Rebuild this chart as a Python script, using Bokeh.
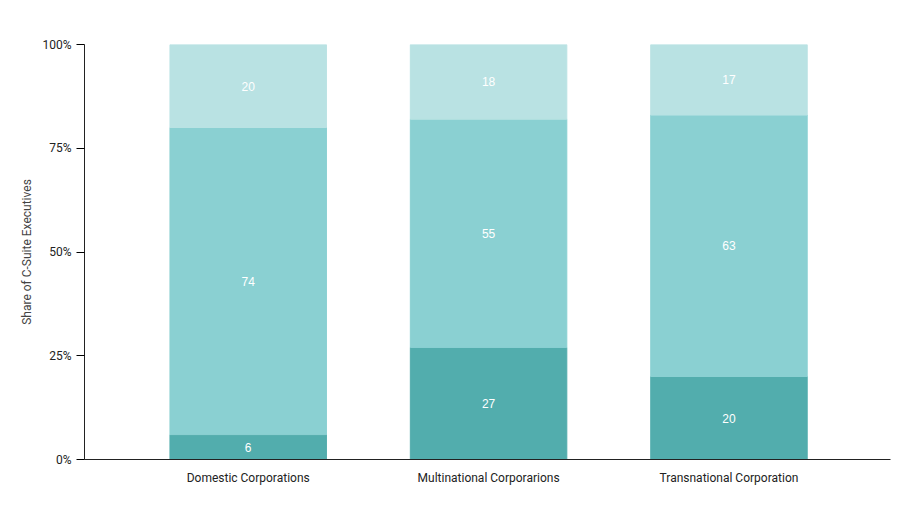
from bokeh.plotting import figure
from bokeh.models import ColumnDataSource, Legend, LegendItem, FixedTicker, NumeralTickFormatter
from bokeh.embed import file_html
from bokeh.resources import INLINE

categories = ["Domestic Corporations", "Multinational Corporarions", "Transnational Corporation"]
nearshore = [6, 27, 20]
onshore = [74, 55, 63]
reshore = [20, 18, 17]
colors = {"Reshore": "#b9e2e3", "Onshore": "#8ad0d2", "Nearshore": "#52adad"}

xs = [1, 2, 3]
n_top = [v / 100 for v in nearshore]
o_top = [(a + b) / 100 for a, b in zip(nearshore, onshore)]
r_top = [(a + b + c) / 100 for a, b, c in zip(nearshore, onshore, reshore)]
src = ColumnDataSource(dict(
    x=xs, n0=[0] * 3, n1=n_top, o1=o_top, r1=r_top,
    nm=[t / 2 for t in n_top], om=[(a + b) / 2 for a, b in zip(n_top, o_top)],
    rm=[(a + b) / 2 for a, b in zip(o_top, r_top)],
    nl=[str(v) for v in nearshore], ol=[str(v) for v in onshore], rl=[str(v) for v in reshore],
))

p = figure(width=903, height=498, output_backend="svg", toolbar_location=None,
           x_range=(0.319, 3.672), y_range=(0, 1), min_border_left=84, min_border_right=13,
           min_border_bottom=39, min_border_top=44)
w = 0.651
rn = p.vbar(x="x", bottom="n0", top="n1", width=w, color=colors["Nearshore"], source=src)
ro = p.vbar(x="x", bottom="n1", top="o1", width=w, color=colors["Onshore"], source=src)
rr = p.vbar(x="x", bottom="o1", top="r1", width=w, color=colors["Reshore"], source=src)
for y, t in (("nm", "nl"), ("om", "ol"), ("rm", "rl")):
    p.text(x="x", y=y, text=t, source=src, text_color="white", text_font_size="12px",
           text_align="center", text_baseline="middle")

legend = Legend(items=[LegendItem(label="Reshore", renderers=[rr]),
                       LegendItem(label="Onshore", renderers=[ro]),
                       LegendItem(label="Nearshore", renderers=[rn])],
                orientation="horizontal", location=(228, 420), border_line_color=None,
                background_fill_alpha=0,
                label_text_font_size="12px", label_text_color="#333333",
                glyph_width=12, glyph_height=12, spacing=16, padding=4, margin=0)
p.add_layout(legend, "center")

p.xgrid.visible = False
p.ygrid.visible = False
p.outline_line_color = None
p.xaxis.ticker = FixedTicker(ticks=xs)
p.xaxis.major_label_overrides = {i: c for i, c in zip(xs, categories)}
p.xaxis.major_tick_line_color = None
p.xaxis.minor_tick_line_color = None
p.yaxis.ticker = FixedTicker(ticks=[0, 0.25, 0.5, 0.75, 1])
p.yaxis.formatter = NumeralTickFormatter(format="0%")
p.yaxis.minor_tick_line_color = None
p.yaxis.major_tick_in = 0
p.yaxis.major_tick_out = 8
p.yaxis.axis_label = "Share of C-Suite Executives"
p.yaxis.axis_label_text_font_style = "normal"
p.yaxis.axis_label_text_font_size = "12px"
for ax in (p.xaxis, p.yaxis):
    ax.major_label_text_font_size = "12px"
    ax.major_label_text_color = "#222222"
    ax.axis_line_color = "#222222"
    ax.major_label_text_font = "Roboto"
p.yaxis.axis_label_text_font = "Roboto"
legend.label_text_font = "Roboto"

open("out.html", "w").write(file_html(p, INLINE))
